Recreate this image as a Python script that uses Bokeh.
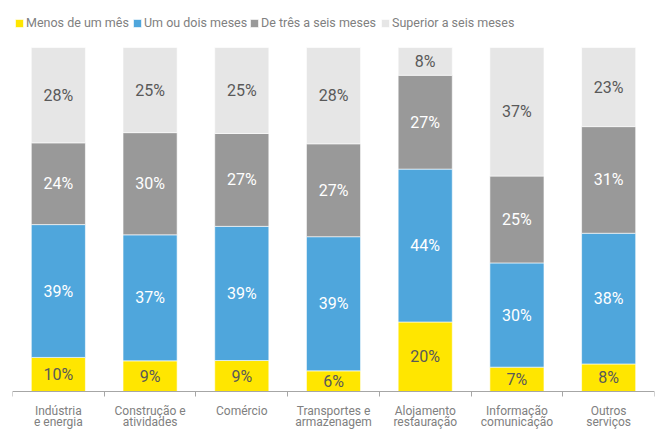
import numpy as np
from bokeh.plotting import figure
from bokeh.models import ColumnDataSource, Range1d, FixedTicker, Legend
from bokeh.core.properties import value
from bokeh.embed import file_html
from bokeh.resources import INLINE

categories = ["Indústria\ne energia", "Construção e\natividades", "Comércio",
              "Transportes e\narmazenagem", "Alojamento\nrestauração",
              "Informação\ncomunicação", "Outros\nserviços"]
series_names = ["Menos de um mês", "Um ou dois meses", "De três a seis meses",
                "Superior a seis meses"]
menos_um_mes = [10, 9, 9, 6, 20, 7, 8]
um_dois_meses = [39, 37, 39, 39, 44, 30, 38]
tres_seis_meses = [24, 30, 27, 27, 27, 25, 31]
superior_seis = [28, 25, 25, 28, 8, 37, 23]

colors = ["#FFE600", "#4FA6DC", "#999999", "#E6E6E6"]
label_colors = ["#595959", "#FFFFFF", "#FFFFFF", "#595959"]
legend_x = [2, 120, 237, 368]
FONT = "Roboto"

vals = np.array([menos_um_mes, um_dois_meses, tres_seis_meses, superior_seis], dtype=float)
shares = vals / vals.sum(axis=0) * 100.0
tops = np.cumsum(shares, axis=0)
bottoms = tops - shares
xs = np.arange(len(categories)) + 0.5

p = figure(width=666, height=430, output_backend="svg", toolbar_location=None,
           x_range=Range1d(0, len(categories)), y_range=Range1d(-11.34, 113.66),
           min_border_left=12, min_border_right=12, min_border_top=0, min_border_bottom=0)
p.outline_line_color = None
p.grid.grid_line_color = None
p.yaxis.visible = False

for k in range(4):
    src = ColumnDataSource(dict(x=xs, top=tops[k], bottom=bottoms[k],
                                mid=(tops[k] + bottoms[k]) / 2,
                                lab=["%d%%" % v for v in vals[k]]))
    r = p.vbar(x="x", top="top", bottom="bottom", width=0.59, source=src,
               fill_color=colors[k], line_color="white", line_width=0.6)
    p.text(x="x", y="mid", text="lab", source=src, text_align="center",
           text_baseline="middle", text_color=label_colors[k],
           text_font=value(FONT), text_font_size="16px")
    lg = Legend(items=[(series_names[k], [r])], orientation="horizontal",
                location=(legend_x[k], 400),
                background_fill_alpha=0, border_line_color=None, padding=0, margin=0,
                label_standoff=2, glyph_width=10, glyph_height=10, label_height=10,
                label_text_font=FONT, label_text_font_size="12.5px",
                label_text_color="#808080")
    p.add_layout(lg)

ax = p.xaxis[0]
ax.fixed_location = 0
ax.ticker = FixedTicker(ticks=[], minor_ticks=list(range(len(categories) + 1)))
ax.major_label_standoff = 0
ax.major_tick_line_color = None
ax.major_tick_out = 0
ax.major_tick_in = 0
ax.minor_tick_out = 5
ax.minor_tick_in = 0
ax.minor_tick_line_color = "#A6A6A6"
ax.axis_line_color = "#A6A6A6"

parts = [c.split("\n") for c in categories]
src1 = ColumnDataSource(dict(x=list(xs), y=[0] * len(xs), t=[c[0] for c in parts]))
two = [i for i, c in enumerate(parts) if len(c) > 1]
src2 = ColumnDataSource(dict(x=[xs[i] for i in two], y=[0] * len(two),
                             t=[parts[i][1] for i in two]))
for s, off in ((src1, 20), (src2, 31)):
    p.text(x="x", y="y", text="t", source=s, y_offset=off,
           text_align="center", text_baseline="middle",
           text_font=value(FONT), text_font_size="12px", text_color="#808080")

open("out.html", "w").write(file_html(p, INLINE))
